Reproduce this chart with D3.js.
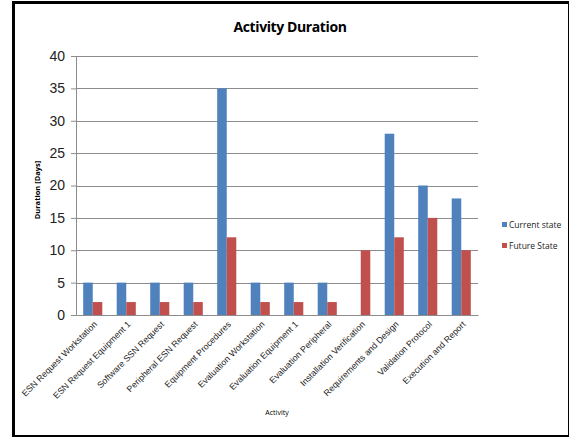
<!DOCTYPE html>
<html>
<head>
<meta charset="utf-8">
<script src="https://cdn.jsdelivr.net/npm/d3@7"></script>
<style>
  body { margin: 0; background: #fff; }
  svg { display: block; font-family: "Open Sans", "Noto Sans", sans-serif; }
</style>
</head>
<body>
<div id="chart"></div>
<script>
// Chart data
var activities = [
    "ESN Request Workstation", "ESN Request Equipment 1", "Software SSN Request",
    "Peripheral ESN Request", "Equipment Procedures", "Evaluation Workstation",
    "Evaluation Equipment 1", "Evaluation Peripheral", "Installation Verification",
    "Requirements and Design", "Validation Protocol", "Execution and Report"
];
var currentState = [5, 5, 5, 5, 35, 5, 5, 5, 0, 28, 20, 18];
var futureState  = [2, 2, 2, 2, 12, 2, 2, 2, 10, 12, 15, 10];
var seriesNames = ["Current state", "Future State"];
var yTicks = [0, 5, 10, 15, 20, 25, 30, 35, 40];

var colors = ["#4F81BD", "#C0504D"];

var W = 569, H = 437;
var margin = { top: 56, left: 76, right: 91, bottom: 122 };
var width = W - margin.left - margin.right,
    height = H - margin.top - margin.bottom;

var svg = d3.select("#chart").append("svg")
    .attr("width", W)
    .attr("height", H);

// Outer frame
svg.append("rect")
    .attr("x", 13.5).attr("y", 2.5)
    .attr("width", 556).attr("height", 434)
    .attr("fill", "none")
    .attr("stroke", "#000")
    .attr("stroke-width", 3);

// Title
svg.append("text")
    .attr("x", 290).attr("y", 32)
    .attr("text-anchor", "middle")
    .style("font-size", "14px")
    .style("font-weight", "bold")
    .style("letter-spacing", "-0.4px")
    .text("Activity Duration");

var g = svg.append("g")
    .attr("transform", "translate(" + margin.left + "," + margin.top + ")");

var x0 = d3.scaleBand().domain(activities).range([0, width]).paddingInner(0.43).paddingOuter(0.215);
var x1 = d3.scaleBand().domain(seriesNames).range([0, x0.bandwidth()]);
var y = d3.scaleLinear().domain([0, 40]).range([height, 0]);

// Gridlines
g.append("g").selectAll("line")
    .data(yTicks.filter(function(d) { return d > 0; }))
    .enter().append("line")
    .attr("x1", 0).attr("x2", width)
    .attr("y1", function(d) { return Math.round(y(d)) + 0.5; })
    .attr("y2", function(d) { return Math.round(y(d)) + 0.5; })
    .attr("stroke", "#8c8c8c")
    .attr("stroke-width", 1);

// Bars
var rows = activities.map(function(a, i) {
    return { name: a, values: [currentState[i], futureState[i]] };
});

var group = g.selectAll(".grp")
    .data(rows)
    .enter().append("g")
    .attr("class", "grp")
    .attr("transform", function(d) { return "translate(" + x0(d.name) + ",0)"; });

group.selectAll("rect")
    .data(function(d) { return d.values.map(function(v, j) { return { key: seriesNames[j], value: v, j: j }; }); })
    .enter().append("rect")
    .attr("x", function(d) { return x1(d.key); })
    .attr("width", x1.bandwidth())
    .attr("y", function(d) { return y(d.value); })
    .attr("height", function(d) { return height - y(d.value); })
    .attr("fill", function(d) { return colors[d.j]; });

// Y axis
var yAxis = g.append("g")
    .call(d3.axisLeft(y).tickValues(yTicks).tickSize(5).tickPadding(6));
yAxis.select(".domain").attr("stroke", "#8c8c8c").attr("d", "M-5," + 0.5 + "H0.5V" + (height + 0.5));
yAxis.selectAll(".tick line").attr("stroke", "#8c8c8c");
yAxis.selectAll("text").style("font-size", "14px").attr("fill", "#222");

// X axis
var xAxis = g.append("g")
    .attr("transform", "translate(0," + height + ")")
    .call(d3.axisBottom(x0).tickSize(0).tickPadding(0));
xAxis.select(".domain").attr("stroke", "#8c8c8c");
xAxis.selectAll("text")
    .style("font-size", "8.8px")
    .attr("fill", "#222")
    .attr("text-anchor", "end")
    .attr("dy", "0.3em")
    .attr("transform", "translate(3,8) rotate(-45)");

// Axis titles
svg.append("text")
    .attr("transform", "translate(40,190) rotate(-90)")
    .attr("text-anchor", "middle")
    .style("font-size", "7.5px")
    .style("font-weight", "bold")
    .text("Duration [Days]");

svg.append("text")
    .attr("x", 277).attr("y", 415)
    .attr("text-anchor", "middle")
    .style("font-size", "7px")
    .text("Activity");

// Legend
var legend = svg.append("g").attr("transform", "translate(502,222)");
var li = legend.selectAll("g")
    .data(seriesNames)
    .enter().append("g")
    .attr("transform", function(d, i) { return "translate(0," + (i * 21) + ")"; });
li.append("rect")
    .attr("width", 5).attr("height", 5)
    .attr("fill", function(d, i) { return colors[i]; });
li.append("text")
    .attr("x", 7).attr("y", 3)
    .attr("dy", "0.35em")
    .style("font-size", "8.5px")
    .attr("fill", "#222")
    .text(function(d) { return d; });
</script>
</body>
</html>
